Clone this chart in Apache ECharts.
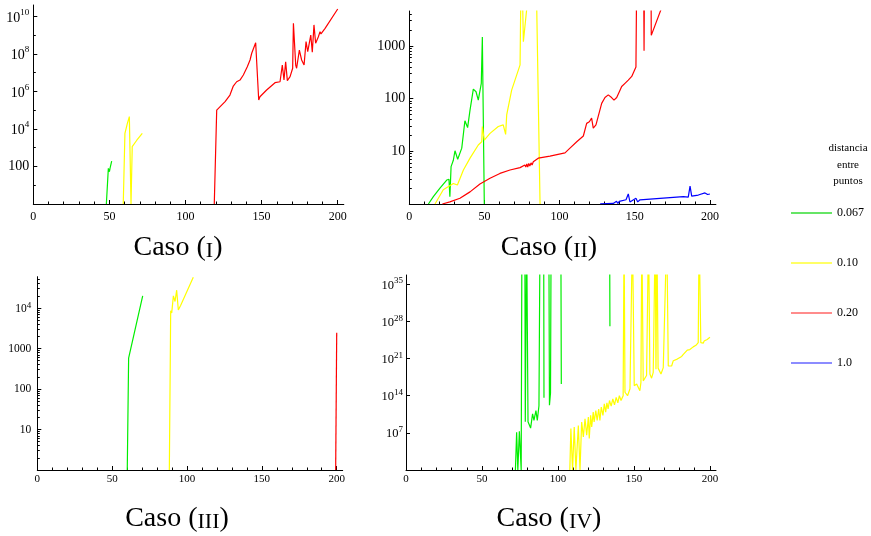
<!DOCTYPE html>
<html><head><meta charset="utf-8">
<script src="https://cdn.jsdelivr.net/npm/echarts@6/dist/echarts.min.js"></script>
<style>html,body{margin:0;padding:0;background:#fff}#c{width:871px;height:536px}</style>
</head><body><div id="c"></div>
<script>
// ---------- data (y values stored as base-10 exponents; null = gap) ----------
const seriesNames = ['0.067', '0.10', '0.20', '1.0'];
const seriesColors = ['#00ee00', '#ffff00', '#ff0000', '#0000ff'];
const legendColors = ['#33dd33', '#ffff33', '#ff6666', '#6666ff'];
const panelTitles = ['I', 'II', 'III', 'IV'];

const xTickValues = [0, 50, 100, 150, 200];
const xMinorValues = [10, 20, 30, 40, 60, 70, 80, 90, 110, 120, 130, 140, 160, 170, 180, 190];

const p1YTicks = [100, 1e4, 1e6, 1e8, 1e10];
const p1YMinor = [10, 1e3, 1e5, 1e7, 1e9];
const p2YTicks = [10, 100, 1000];
const p2YMinor = [2, 3, 4, 5, 6, 7, 8, 9, 20, 30, 40, 50, 60, 70, 80, 90, 200, 300, 400, 500, 600, 700, 800, 900, 2000, 3000, 4000];
const p3YTicks = [10, 100, 1000, 1e4];
const p3YMinor = [2, 3, 4, 5, 6, 7, 8, 9, 20, 30, 40, 50, 60, 70, 80, 90, 200, 300, 400, 500, 600, 700, 800, 900, 2000, 3000, 4000, 5000, 6000, 7000, 8000, 9000, 20000, 30000, 40000, 50000];
const p4YTicks = [1e7, 1e14, 1e21, 1e28, 1e35];

// Caso (I)
const p1GreenX = [48, 49.3, 50, 50.4, 51.5];
const p1GreenE = [0, 1.9, 1.72, 1.9, 2.29];
const p1YellowX = [59.1, 60.2, 61.8, 63.1, 64.2, 65, 68, 71.6];
const p1YellowE = [0, 3.77, 4.3, 4.66, 0, 3.06, 3.4, 3.77];
const p1RedX = [118.9, 120.5, 120.9, 126, 129.2, 131.4, 133.6, 135.8, 138, 140.6, 142.4, 143.5, 146.1, 148.1, 148.9, 153.3, 158.8, 162.1, 163.6, 164.7, 165.8, 166.9, 168.7, 170.4, 170.9, 172.4, 173, 174.8, 176.3, 177.9, 179.2, 180.3, 181.3, 182.3, 183.3, 184.4, 185.5, 187.3, 188.4, 189, 191.7, 200];
const p1RedE = [0, 5.01, 5.1, 5.46, 5.81, 6.29, 6.52, 6.61, 6.88, 7.32, 7.68, 8.04, 8.6, 5.55, 5.72, 6.08, 6.47, 6.52, 7.41, 6.61, 7.59, 6.58, 6.79, 7.24, 9.64, 7.41, 7.24, 8.21, 7.68, 7.41, 8.66, 8.12, 8.57, 9.01, 8.09, 9.55, 8.57, 8.92, 9.19, 9.07, 9.37, 10.4];

// Caso (II)
const p2GreenX = [12.7, 16, 20.4, 24.9, 26.4, 27, 27.8, 29.3, 30.4, 32.2, 34.9, 37, 38.8, 40.4, 42.6, 44.4, 45.9, 47.9, 48.6, 49.2, 49.9];
const p2GreenE = [0, 0.14, 0.3, 0.455, 0.47, 0.14, 0.71, 0.83, 1.01, 0.85, 1.06, 1.58, 1.45, 1.78, 2.18, 2.13, 1.97, 2.29, 3.17, 3.17, 0];
const p2YellowX = [17.1, 22.6, 29.3, 32, 36, 40.4, 45.9, 48.2, 48.6, 49.9, 53.7, 59.2, 62.5, 64.1, 64.8, 68.1, 73.7, 73.9, 74.6, 75.4, 75.9, 78.3, 79, 84, 84.8, 87];
const p2YellowE = [0, 0.27, 0.39, 0.36, 0.645, 0.87, 1.12, 1.18, 1.47, 1.21, 1.34, 1.47, 1.5, 1.32, 1.69, 2.16, 2.64, 2.67, 5, 5, 3.08, 3.75, 5, 5, 3.7, 0];
const p2RedX = [22, 27, 33.7, 40.4, 47, 53.7, 60.3, 67, 73.7, 76.9, 77.5, 78.2, 78.8, 79.5, 80.2, 81, 81.7, 82.5, 85.8, 93.6, 103.6, 106.9, 111.4, 115.8, 118, 119.8, 121.3, 122.4, 124.2, 128, 130.2, 132.4, 134.6, 136.2, 138, 140.2, 141.3, 143.5, 145.7, 148, 150.8, 151.5, 155.8, 156.2, 156.6, 160.7, 161, 167.6];
const p2RedE = [0, 0.04, 0.11, 0.23, 0.38, 0.49, 0.58, 0.645, 0.69, 0.74, 0.7, 0.76, 0.7, 0.77, 0.72, 0.78, 0.74, 0.8, 0.87, 0.91, 0.97, 1.06, 1.18, 1.29, 1.53, 1.56, 1.63, 1.44, 1.5, 1.91, 2.02, 2.07, 2.02, 1.97, 2.02, 2.16, 2.23, 2.29, 2.35, 2.42, 2.6, 5, 5, 2.91, 5, 5, 3.2, 3.7];
const p2BlueX = [127, 135.7, 137.9, 138.8, 139.7, 144.2, 145.7, 146.8, 150.8, 152, 153.5, 182.3, 185.6, 186.8, 187.9, 192.3, 193.5, 196.7, 198.5, 200];
const p2BlueE = [0.005, 0.01, 0.05, 0.01, 0.05, 0.08, 0.19, 0.04, 0.11, 0.04, 0.08, 0.14, 0.13, 0.34, 0.15, 0.17, 0.15, 0.21, 0.18, 0.19];

// Caso (III)
const p3GreenX = [60.1, 61, 70.4];
const p3GreenE = [0, 2.76, 4.3];
const p3YellowX = [88.2, 89.1, 89.8, 90.9, 92, 93.1, 94.2, 95.8, 104.2];
const p3YellowE = [0, 3.93, 3.88, 4.3, 4.16, 4.44, 3.95, 4.07, 4.76];
const p3RedX = [199.3, 200];
const p3RedE = [0, 3.39];

// Caso (IV)
const p4GreenX = [72, 72.8, 73.6, 74.6, 75.4, 75.8, 76.3, 78.2, 78.5, 79.4, 80.0, 80.3, 82.0, 83.3, 84.2, 85.5, 86.4, 87.5, 88.2, 90.6, 90.8, 92, 94.0, 94.4, 95.1, 95.5, 101.9, 102.2, 110, 134.0, 134.2];
const p4GreenE = [0, 7.1, 0, 7.3, 7.5, 0, 45, 45, 9.1, 45, 45, 9.1, 7.9, 10.6, 9.35, 11.2, 9.35, 12.1, 45, 45, 13.6, null, 45, 12.2, 14.5, 45, 45, 16.2, null, 45, 27.1];
const p4YellowX = [107.8, 108.5, 109.6, 110.7, 111.8, 113.4, 114.5, 115.6, 116.7, 117.8, 118.9, 120.0, 120.6, 121.5, 122.2, 123.2, 123.8, 124.9, 125.8, 126.8, 127.6, 128.5, 129.6, 130.5, 131.4, 132.2, 133.0, 133.9, 135.0, 136.1, 137.2, 138.3, 139.4, 140.4, 141.5, 142.2, 142.9, 143.5, 144.1, 145.8, 147.4, 148.3, 149.0, 150.2, 151.8, 152.8, 153.9, 154.6, 155.2, 156.1, 157.2, 158.3, 158.9, 159.6, 160.5, 161.6, 162.7, 163.4, 164.0, 164.5, 165.1, 165.9, 167.8, 169.3, 170.6, 171.6, 172.6, 173.7, 174.8, 175.9, 177.0, 178.5, 179.8, 181.4, 182.5, 183.6, 185.1, 186.8, 189.0, 190.8, 192.3, 192.9, 194.0, 195.6, 196.2, 197.1, 198.2, 199.5, 200];
const p4YellowE = [0, 7.8, 0, 8.1, 0, 8.4, 0, 9.05, 6.25, 9.67, 6.56, 10.0, 5.94, 10.3, 8.1, 10.9, 9.05, 11.2, 9.35, 11.5, 9.35, 11.85, 10.3, 12.47, 10.9, 12.65, 11.5, 13.1, 12.04, 13.4, 12.28, 13.7, 12.65, 14.0, 13.1, 13.4, 14.0, 45, 14.65, 14.0, 15.3, 15.6, 45, 15.9, 16.2, 16.5, 14.95, 16.5, 45, 16.8, 17.1, 17.8, 17.6, 45, 18.1, 17.3, 18.4, 18.6, 45, 19.0, 45, 19.2, 18.1, 19.3, 19.5, 45, 19.6, 19.9, 19.6, 20.6, 20.3, 20.9, 20.8, 21.4, 21.8, 22.1, 22.6, 22.7, 23.2, 23.5, 24.0, 45, 24.0, 23.9, 24.3, 24.0, 24.6, 24.9, 25.0];

// ---------- chart ----------
const F = "'Liberation Serif', 'DejaVu Serif', serif";
const pts = (xs, es) => xs.map((x, i) => es[i] === null ? [x, '-'] : [x, Math.pow(10, es[i])]);

const grids = [
  {left: 33.3, top: 5, width: 310.5, height: 199},
  {left: 409.3, top: 11, width: 306.6, height: 193},
  {left: 37.3, top: 276.7, width: 305.4, height: 193.3},
  {left: 406, top: 275, width: 310, height: 195}
];
const yMax = [4.1e10, 4592, 59290, 5.6e36];
const yTicks = [p1YTicks, p2YTicks, p3YTicks, p4YTicks];
const yMinor = [p1YMinor, p2YMinor, p3YMinor, []];
const yFont = [14, 14, 11.5, 12.5];
const yMargin = [4, 4, 6, 3];
const xFont = [12, 12, 11, 11];
const xMargin = [7, 7, 4, 4];

function yLabel(v) {
  const e = Math.round(Math.log10(v));
  if (e <= 3) return String(Math.round(v));
  return '{b|10}{s|' + e + '}';
}

const xAxis = [], yAxis = [];
grids.forEach((g, i) => {
  const common = {type: 'value', gridIndex: i, min: 0, max: 204, position: 'bottom', offset: 0, splitLine: {show: false}};
  xAxis.push(Object.assign({}, common, {
    axisLine: {onZero: false, lineStyle: {color: '#000', width: 1}},
    axisTick: {inside: true, length: 4, lineStyle: {color: '#000'}, customValues: xTickValues},
    axisLabel: {customValues: xTickValues, fontFamily: F, fontSize: xFont[i], color: '#000', margin: xMargin[i]}
  }));
  xAxis.push(Object.assign({}, common, {
    axisLine: {show: false, onZero: false},
    axisTick: {inside: true, length: 2.5, lineStyle: {color: '#000'}, customValues: xMinorValues},
    axisLabel: {show: false}
  }));
  const ycommon = {type: 'log', logBase: 10, gridIndex: i, min: 1, max: yMax[i], position: 'left', offset: 0, splitLine: {show: false}};
  yAxis.push(Object.assign({}, ycommon, {
    axisLine: {show: true, onZero: false, lineStyle: {color: '#000', width: 1}},
    axisTick: {show: true, inside: true, length: 4, lineStyle: {color: '#000'}, customValues: yTicks[i]},
    axisLabel: {customValues: yTicks[i], fontFamily: F, fontSize: yFont[i], color: '#000', margin: yMargin[i],
      formatter: yLabel,
      rich: {
        b: {fontFamily: F, fontSize: yFont[i], color: '#000', lineHeight: yFont[i] + 3, verticalAlign: 'bottom'},
        s: {fontFamily: F, fontSize: 9, color: '#000', lineHeight: 9, verticalAlign: 'top'}
      }}
  }));
  yAxis.push(Object.assign({}, ycommon, {
    axisLine: {show: false, onZero: false},
    axisTick: {show: yMinor[i].length > 0, inside: true, length: 2.5, lineStyle: {color: '#000'}, customValues: yMinor[i].length ? yMinor[i] : [1]},
    axisLabel: {show: false}
  }));
});

function line(k, gi, xs, es) {
  return {
    type: 'line', name: seriesNames[k], xAxisIndex: 2 * gi, yAxisIndex: 2 * gi,
    data: pts(xs, es), symbol: 'none', showSymbol: false, clip: true, silent: true,
    lineStyle: {color: seriesColors[k], width: 1.2}, itemStyle: {color: seriesColors[k]},
    connectNulls: false, animation: false
  };
}

const series = [
  line(0, 0, p1GreenX, p1GreenE), line(1, 0, p1YellowX, p1YellowE), line(2, 0, p1RedX, p1RedE),
  line(0, 1, p2GreenX, p2GreenE), line(1, 1, p2YellowX, p2YellowE), line(2, 1, p2RedX, p2RedE), line(3, 1, p2BlueX, p2BlueE),
  line(0, 2, p3GreenX, p3GreenE), line(1, 2, p3YellowX, p3YellowE), line(2, 2, p3RedX, p3RedE),
  line(0, 3, p4GreenX, p4GreenE), line(1, 3, p4YellowX, p4YellowE)
];

const titlePos = [[178, 248], [549, 248], [177, 519], [549, 519]];
const richTitle = {
  a: {fontSize: 28, fontFamily: F, fill: '#000', lineHeight: 28, verticalAlign: 'bottom'},
  b: {fontSize: 22, fontFamily: F, fill: '#000', lineHeight: 22, verticalAlign: 'bottom'}
};
const graphic = panelTitles.map((t, i) => ({
  type: 'text', x: titlePos[i][0], y: titlePos[i][1], silent: true,
  style: {text: '{a|Caso (}{b|' + t + '}{a|)}', align: 'center', verticalAlign: 'middle', rich: richTitle}
}));
graphic.push({
  type: 'text', x: 848, y: 165, silent: true,
  style: {text: 'distancia\nentre\npuntos', align: 'center', verticalAlign: 'middle',
    fontFamily: F, fontSize: 11, lineHeight: 16.5, fill: '#000'}
});

const chart = echarts.init(document.getElementById('c'), null, {renderer: 'canvas'});
chart.setOption({
  animation: false,
  backgroundColor: '#fff',
  grid: grids.map(g => Object.assign({containLabel: false, outerBoundsMode: 'none'}, g)),
  xAxis, yAxis, series, graphic,
  legend: {
    orient: 'vertical', left: 786, top: 202, itemWidth: 41, itemHeight: 1.5, itemGap: 38,
    icon: 'rect', selectedMode: false,
    textStyle: {fontFamily: F, fontSize: 12, color: '#000'},
    data: seriesNames.map((n, k) => ({name: n, icon: 'rect', itemStyle: {color: legendColors[k]}}))
  }
});
</script></body></html>
